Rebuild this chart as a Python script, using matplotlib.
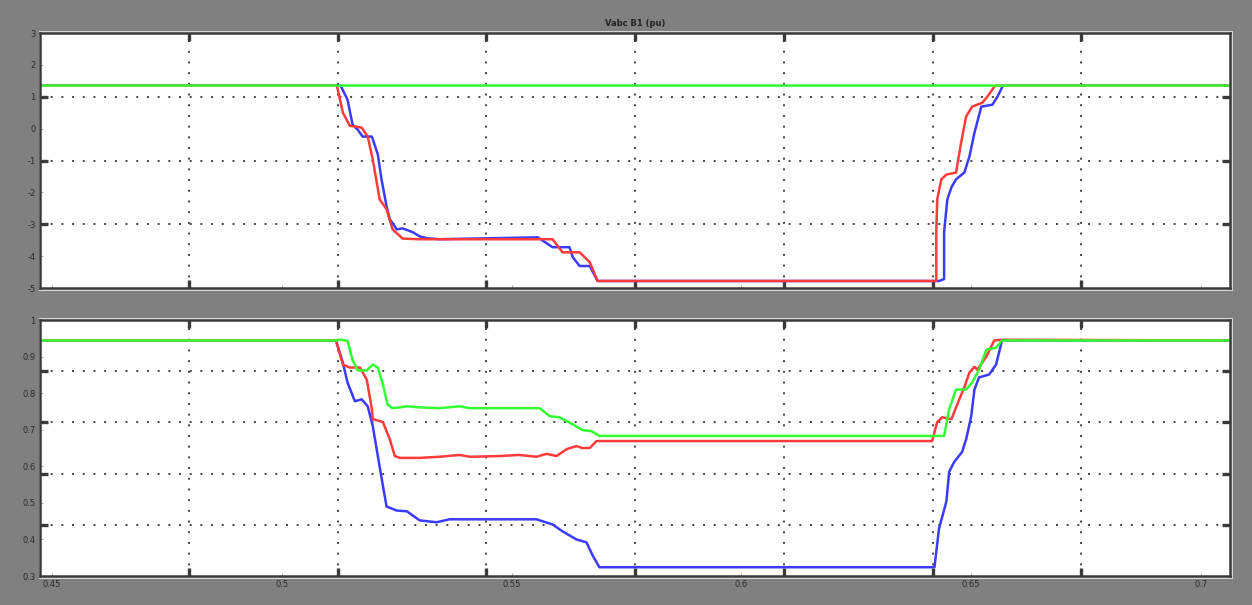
import matplotlib
matplotlib.use("Agg")
import matplotlib.pyplot as plt
import matplotlib.patches as mpatches
import numpy as np

plt.rcParams["axes.unicode_minus"] = False

# time axis limits of the scope window (s)
x_lim = (0.4474, 0.7063)

# ---- top panel: Vabc B1 (pu)
top_ylim = (-5, 3)
top_yticks = [3, 2, 1, 0, -1, -2, -3, -4, -5]
top_green_t = [0.4474, 0.7063]
top_green_v = [1.35, 1.35]

top_red_t = [0.4474, 0.5120, 0.5133, 0.5148, 0.5174, 0.5187, 0.5198, 0.5213, 0.5228,
             0.5241, 0.5263, 0.5300, 0.5589, 0.5611, 0.5648, 0.5670, 0.5687, 0.6415,
             0.6424, 0.6424, 0.6426, 0.6435, 0.6446, 0.6467, 0.6478, 0.6489, 0.6502,
             0.6524, 0.6535, 0.6552, 0.7063]
top_red_v = [1.35, 1.35, 0.50, 0.09, 0.03, -0.25, -0.97, -2.22, -2.53,
             -3.16, -3.45, -3.47, -3.47, -3.88, -3.88, -4.19, -4.78, -4.78,
             -4.78, -3.25, -2.22, -1.59, -1.44, -1.38, -0.44, 0.38, 0.69,
             0.81, 1.00, 1.35, 1.35]

top_blue_t = [0.4474, 0.5128, 0.5143, 0.5154, 0.5165, 0.5176, 0.5196, 0.5209, 0.5217,
              0.5228, 0.5235, 0.5250, 0.5263, 0.5285, 0.5300, 0.5317, 0.5343, 0.5557,
              0.5589, 0.5626, 0.5633, 0.5648, 0.5670, 0.5687, 0.6430, 0.6441, 0.6441,
              0.6448, 0.6457, 0.6467, 0.6485, 0.6496, 0.6507, 0.6522, 0.6546, 0.6557,
              0.6569, 0.7063]
top_blue_v = [1.35, 1.35, 0.91, 0.13, -0.03, -0.25, -0.25, -0.81, -1.59,
              -2.44, -2.84, -3.16, -3.13, -3.25, -3.38, -3.44, -3.47, -3.41,
              -3.72, -3.72, -4.03, -4.31, -4.31, -4.78, -4.78, -4.72, -3.25,
              -2.22, -1.84, -1.59, -1.38, -0.88, -0.13, 0.69, 0.75, 1.00,
              1.35, 1.35]

# ---- bottom panel
bot_ylim = (0.3, 1.0)
bot_yticks = [1.0, 0.9, 0.8, 0.7, 0.6, 0.5, 0.4, 0.3]
bot_ylabels = ["1", "0.9", "0.8", "0.7", "0.6", "0.5", "0.4", "0.3"]
x_ticks = [0.45, 0.5, 0.55, 0.6, 0.65, 0.7]
x_labels = ["0.45", "0.5", "0.55", "0.6", "0.65", "0.7"]

bot_green_t = [0.4474, 0.5115, 0.5130, 0.5143, 0.5154, 0.5165, 0.5185, 0.5198, 0.5209,
               0.5220, 0.5230, 0.5241, 0.5257, 0.5272, 0.5300, 0.5343, 0.5387, 0.5409,
               0.5561, 0.5583, 0.5604, 0.5633, 0.5654, 0.5674, 0.5691, 0.6441, 0.6452,
               0.6467, 0.6489, 0.6502, 0.6517, 0.6533, 0.6554, 0.6567, 0.7063]
bot_green_v = [0.944, 0.944, 0.946, 0.943, 0.891, 0.862, 0.862, 0.878, 0.870,
               0.824, 0.769, 0.759, 0.761, 0.764, 0.761, 0.759, 0.764, 0.759,
               0.759, 0.737, 0.734, 0.715, 0.699, 0.696, 0.683, 0.683, 0.756,
               0.810, 0.810, 0.829, 0.864, 0.919, 0.924, 0.944, 0.944]

bot_red_t = [0.4474, 0.5118, 0.5133, 0.5148, 0.5170, 0.5185, 0.5196, 0.5198, 0.5220,
             0.5235, 0.5246, 0.5257, 0.5300, 0.5343, 0.5387, 0.5409, 0.5474, 0.5517,
             0.5554, 0.5576, 0.5598, 0.5620, 0.5641, 0.5654, 0.5670, 0.5685, 0.6415,
             0.6426, 0.6437, 0.6457, 0.6474, 0.6485, 0.6496, 0.6507, 0.6513, 0.6533,
             0.6550, 0.6567, 0.7063]
bot_red_v = [0.944, 0.944, 0.878, 0.870, 0.870, 0.837, 0.756, 0.729, 0.721,
             0.674, 0.628, 0.623, 0.623, 0.626, 0.631, 0.626, 0.628, 0.631,
             0.626, 0.634, 0.628, 0.647, 0.655, 0.650, 0.650, 0.669, 0.669,
             0.721, 0.734, 0.729, 0.783, 0.816, 0.856, 0.872, 0.864, 0.900,
             0.944, 0.946, 0.944]

bot_blue_t = [0.4474, 0.5118, 0.5133, 0.5143, 0.5159, 0.5174, 0.5187, 0.5198, 0.5209,
              0.5220, 0.5228, 0.5250, 0.5272, 0.5300, 0.5337, 0.5365, 0.5554, 0.5589,
              0.5611, 0.5641, 0.5663, 0.5676, 0.5691, 0.6420, 0.6430, 0.6446, 0.6452,
              0.6463, 0.6480, 0.6489, 0.6500, 0.6507, 0.6517, 0.6539, 0.6554, 0.6567,
              0.7063]
bot_blue_v = [0.944, 0.944, 0.883, 0.829, 0.778, 0.783, 0.764, 0.710, 0.628,
              0.547, 0.490, 0.479, 0.477, 0.452, 0.447, 0.455, 0.455, 0.441,
              0.422, 0.400, 0.392, 0.357, 0.324, 0.324, 0.430, 0.504, 0.585,
              0.612, 0.639, 0.674, 0.737, 0.810, 0.843, 0.851, 0.878, 0.944,
              0.944]

GREEN = "#33ff33"
RED = "#ff3b3b"
BLUE = "#3b3bff"
BG = "#808080"
LW = 1.8
W, H = 1252, 605


def style_axes(ax, ylim, yticks, ydivs):
    """Scope look: grid on equal divisions, value ticks separate."""
    ax.set_facecolor("white")
    ax.set_xlim(*x_lim)
    ax.set_ylim(*ylim)
    ax.xaxis.remove_overlapping_locs = False
    ax.yaxis.remove_overlapping_locs = False
    ax.set_xticks(x_ticks)
    ax.set_yticks(yticks)
    # grid divisions as minor ticks
    ax.set_xticks(np.linspace(x_lim[0], x_lim[1], 9)[1:-1], minor=True)
    ax.set_yticks(np.linspace(ylim[0], ylim[1], ydivs + 1)[1:-1], minor=True)
    ax.grid(False, which="major")
    ax.grid(True, which="minor", color="#444444", linestyle=(0, (1, 4.5)), linewidth=1.4)
    ax.tick_params(which="minor", direction="in", length=6, width=2.4, color="#3a3a3a",
                   top=True, right=True)
    ax.tick_params(which="major", direction="in", length=2, width=0.6, color="#999999",
                   labelsize=6, labelcolor="#2a2a2a", pad=3)
    for s in ax.spines.values():
        s.set_color("#3a3a3a")
        s.set_linewidth(1.8)


def bevel(fig, left, top, right, bottom):
    """Light rim just outside the axes frame, like the scope window."""
    rect = mpatches.Rectangle(((left - 1) / W, 1 - (bottom + 3) / H),
                              (right - left + 4) / W, (bottom - top + 5) / H,
                              transform=fig.transFigure, facecolor="#d8d8d8",
                              edgecolor="none", zorder=-1)
    fig.patches.append(rect)


fig = plt.figure(figsize=(W / 100, H / 100), dpi=100)
fig.patch.set_facecolor(BG)

ax1 = fig.add_axes([40 / W, 1 - 288 / H, 1190 / W, 255 / H])
ax2 = fig.add_axes([40 / W, 1 - 576 / H, 1190 / W, 256 / H])
bevel(fig, 40, 33, 1230, 288)
bevel(fig, 40, 320, 1230, 576)

style_axes(ax1, top_ylim, top_yticks, 4)
ax1.set_yticklabels([str(v) for v in top_yticks])
ax1.tick_params(labelbottom=False)
ax1.plot(top_blue_t, top_blue_v, color=BLUE, lw=LW, snap=False)
ax1.plot(top_red_t, top_red_v, color=RED, lw=LW, snap=False)
ax1.plot(top_green_t, top_green_v, color=GREEN, lw=LW, snap=False)
ax1.set_title("Vabc B1 (pu)", fontsize=6, fontweight="bold", color="#222222", pad=5)

style_axes(ax2, bot_ylim, bot_yticks, 5)
ax2.set_yticklabels(bot_ylabels)
ax2.set_xticklabels(x_labels)
ax2.plot(bot_blue_t, bot_blue_v, color=BLUE, lw=LW, snap=False)
ax2.plot(bot_red_t, bot_red_v, color=RED, lw=LW, snap=False)
ax2.plot(bot_green_t, bot_green_v, color=GREEN, lw=LW, snap=False)

fig.savefig("out.png", dpi=100, facecolor=fig.get_facecolor())
